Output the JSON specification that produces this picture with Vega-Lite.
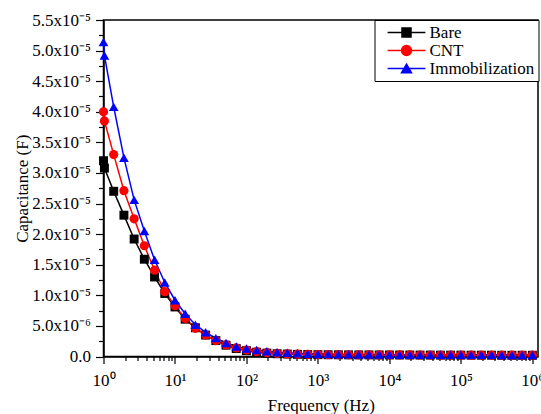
{
  "$schema": "https://vega.github.io/schema/vega-lite/v6.json",
  "width": 434.5,
  "height": 336.5,
  "autosize": {"type": "none"},
  "padding": {"left": 103.5, "top": 20, "right": 3, "bottom": 57.5},
  "background": "white",
  "config": {
    "view": {"stroke": "black", "strokeWidth": 1.5},
    "font": "Liberation Serif",
    "axis": {
      "grid": false,
      "domainColor": "black",
      "domainWidth": 1.5,
      "tickColor": "black",
      "tickWidth": 1.2,
      "labelColor": "black",
      "labelFont": "Liberation Serif",
      "labelFontSize": 17,
      "titleFont": "Liberation Serif",
      "titleFontSize": 17,
      "titleFontWeight": "normal",
      "titleColor": "black",
      "labelOverlap": false,
      "labelFlush": false
    }
  },
  "data": {
    "values": [
      {"f": 1, "Bare": 3.20e-5, "CNT": 4.00e-5, "Immobilization": 5.14e-5},
      {"f": 1.03, "Bare": 3.08e-5, "CNT": 3.85e-5, "Immobilization": 4.92e-5},
      {"f": 1.389, "Bare": 2.70e-5, "CNT": 3.30e-5, "Immobilization": 4.08e-5},
      {"f": 1.931, "Bare": 2.31e-5, "CNT": 2.71e-5, "Immobilization": 3.25e-5},
      {"f": 2.683, "Bare": 1.92e-5, "CNT": 2.25e-5, "Immobilization": 2.56e-5},
      {"f": 3.728, "Bare": 1.59e-5, "CNT": 1.81e-5, "Immobilization": 2.05e-5},
      {"f": 5.179, "Bare": 1.30e-5, "CNT": 1.41e-5, "Immobilization": 1.58e-5},
      {"f": 7.197, "Bare": 1.03e-5, "CNT": 1.06e-5, "Immobilization": 1.21e-5},
      {"f": 10, "Bare": 0.81e-5, "CNT": 0.83e-5, "Immobilization": 0.92e-5},
      {"f": 13.89, "Bare": 0.61e-5, "CNT": 0.62e-5, "Immobilization": 0.70e-5},
      {"f": 19.31, "Bare": 0.47e-5, "CNT": 0.46e-5, "Immobilization": 0.52e-5},
      {"f": 26.83, "Bare": 0.35e-5, "CNT": 0.35e-5, "Immobilization": 0.395e-5},
      {"f": 37.28, "Bare": 0.26e-5, "CNT": 0.26e-5, "Immobilization": 0.30e-5},
      {"f": 51.79, "Bare": 0.185e-5, "CNT": 0.19e-5, "Immobilization": 0.22e-5},
      {"f": 71.97, "Bare": 0.13e-5, "CNT": 0.14e-5, "Immobilization": 0.165e-5},
      {"f": 100, "Bare": 0.095e-5, "CNT": 0.105e-5, "Immobilization": 0.13e-5},
      {"f": 138.9, "Bare": 0.07e-5, "CNT": 0.08e-5, "Immobilization": 0.105e-5},
      {"f": 193.1, "Bare": 0.055e-5, "CNT": 0.062e-5, "Immobilization": 0.085e-5},
      {"f": 268.3, "Bare": 0.045e-5, "CNT": 0.05e-5, "Immobilization": 0.07e-5},
      {"f": 372.8, "Bare": 0.04e-5, "CNT": 0.043e-5, "Immobilization": 0.06e-5},
      {"f": 517.9, "Bare": 0.035e-5, "CNT": 0.038e-5, "Immobilization": 0.052e-5},
      {"f": 719.7, "Bare": 0.032e-5, "CNT": 0.034e-5, "Immobilization": 0.046e-5},
      {"f": 1000, "Bare": 0.030e-5, "CNT": 0.032e-5, "Immobilization": 0.042e-5},
      {"f": 1389, "Bare": 0.029e-5, "CNT": 0.030e-5, "Immobilization": 0.039e-5},
      {"f": 1931, "Bare": 0.028e-5, "CNT": 0.029e-5, "Immobilization": 0.037e-5},
      {"f": 2683, "Bare": 0.027e-5, "CNT": 0.028e-5, "Immobilization": 0.035e-5},
      {"f": 3728, "Bare": 0.026e-5, "CNT": 0.027e-5, "Immobilization": 0.034e-5},
      {"f": 5179, "Bare": 0.026e-5, "CNT": 0.027e-5, "Immobilization": 0.033e-5},
      {"f": 7197, "Bare": 0.025e-5, "CNT": 0.026e-5, "Immobilization": 0.032e-5},
      {"f": 10000, "Bare": 0.025e-5, "CNT": 0.026e-5, "Immobilization": 0.031e-5},
      {"f": 13895, "Bare": 0.024e-5, "CNT": 0.025e-5, "Immobilization": 0.030e-5},
      {"f": 19307, "Bare": 0.024e-5, "CNT": 0.025e-5, "Immobilization": 0.030e-5},
      {"f": 26827, "Bare": 0.023e-5, "CNT": 0.024e-5, "Immobilization": 0.029e-5},
      {"f": 37276, "Bare": 0.023e-5, "CNT": 0.024e-5, "Immobilization": 0.029e-5},
      {"f": 51795, "Bare": 0.022e-5, "CNT": 0.023e-5, "Immobilization": 0.028e-5},
      {"f": 71969, "Bare": 0.022e-5, "CNT": 0.023e-5, "Immobilization": 0.028e-5},
      {"f": 100000, "Bare": 0.022e-5, "CNT": 0.023e-5, "Immobilization": 0.028e-5},
      {"f": 138950, "Bare": 0.021e-5, "CNT": 0.022e-5, "Immobilization": 0.027e-5},
      {"f": 193070, "Bare": 0.021e-5, "CNT": 0.022e-5, "Immobilization": 0.027e-5},
      {"f": 268270, "Bare": 0.021e-5, "CNT": 0.022e-5, "Immobilization": 0.027e-5},
      {"f": 372759, "Bare": 0.020e-5, "CNT": 0.021e-5, "Immobilization": 0.026e-5},
      {"f": 517947, "Bare": 0.020e-5, "CNT": 0.021e-5, "Immobilization": 0.026e-5},
      {"f": 719686, "Bare": 0.020e-5, "CNT": 0.021e-5, "Immobilization": 0.026e-5},
      {"f": 1000000, "Bare": 0.020e-5, "CNT": 0.021e-5, "Immobilization": 0.026e-5}
    ]
  },
  "transform": [{"fold": ["Bare", "CNT", "Immobilization"], "as": ["s", "c"]}],
  "encoding": {
    "x": {
      "field": "f",
      "type": "quantitative",
      "scale": {"type": "log", "domain": [1, 1200000], "nice": false},
      "axis": {
        "title": "Frequency (Hz)",
        "values": [1,2,3,4,5,6,7,8,9,10,20,30,40,50,60,70,80,90,100,200,300,400,500,600,700,800,900,1000,2000,3000,4000,5000,6000,7000,8000,9000,10000,20000,30000,40000,50000,60000,70000,80000,90000,100000,200000,300000,400000,500000,600000,700000,800000,900000,1000000],
        "labelExpr": "abs(log(datum.value)/LN10 - round(log(datum.value)/LN10)) < 1e-6 ? '10' + ['⁰','¹','²','³','⁴','⁵','⁶'][round(log(datum.value)/LN10)] : ''",
        "tickSize": {"condition": {"test": "abs(log(datum.value)/LN10 - round(log(datum.value)/LN10)) < 1e-6", "value": 7}, "value": 4},
        "labelPadding": 9,
        "titlePadding": 9
      }
    },
    "y": {
      "field": "c",
      "type": "quantitative",
      "scale": {"domain": [0, 0.000055], "nice": false, "zero": false},
      "axis": {
        "title": "Capacitance (F)",
        "values": [0, 2.5e-6, 5e-6, 7.5e-6, 1e-5, 1.25e-5, 1.5e-5, 1.75e-5, 2e-5, 2.25e-5, 2.5e-5, 2.75e-5, 3e-5, 3.25e-5, 3.5e-5, 3.75e-5, 4e-5, 4.25e-5, 4.5e-5, 4.75e-5, 5e-5, 5.25e-5, 5.5e-5],
        "labelExpr": "datum.value < 1e-9 ? '0.0' : (round(datum.value*1e7) % 50 !== 0 ? '' : (round(datum.value*1e7) === 50 ? '5.0x10⁻⁶' : format(datum.value*1e5, '.1f') + 'x10⁻⁵'))",
        "tickSize": {"condition": {"test": "round(datum.value*1e7) % 50 === 0", "value": 8}, "value": 5},
        "labelPadding": 5,
        "titlePadding": 0
      }
    },
    "color": {
      "field": "s",
      "type": "nominal",
      "scale": {"domain": ["Bare", "CNT", "Immobilization"], "range": ["#000000", "#ff0000", "#0000ff"]},
      "legend": {
        "title": null,
        "orient": "top-right",
        "offset": 0,
        "padding": 4,
        "strokeColor": "black",
        "fillColor": "white",
        "cornerRadius": 0,
        "labelFont": "Liberation Serif",
        "labelFontSize": 17,
        "labelColor": "black",
        "symbolSize": 81,
        "symbolStrokeWidth": 1.5,
        "symbolOpacity": 1,
        "symbolOffset": 19.5,
        "labelOffset": 14.5,
        "rowPadding": 0,
        "encode": {
          "symbols": {
            "update": {
              "shape": [
                {"test": "datum.value === 'Bare'", "value": "M-4.2,0H4.2M-1,-1H1V1H-1Z"},
                {"test": "datum.value === 'CNT'", "value": "M-4.2,0H4.2M-1.1,0A1.1,1.1,0,1,1,1.1,0A1.1,1.1,0,1,1,-1.1,0Z"},
                {"value": "M-4.2,0H4.2M0,-0.95L1.1,0.95L-1.1,0.95Z"}
              ],
              "fill": {"scale": "color", "field": "value"},
              "stroke": {"scale": "color", "field": "value"},
              "strokeWidth": {"value": 1.5},
              "opacity": {"value": 1}
            }
          }
        }
      }
    }
  },
  "layer": [
    {"mark": {"type": "line", "strokeWidth": 1.5}, "encoding": {}},
    {
      "transform": [{"filter": "datum.s === 'Bare'"}],
      "mark": {"type": "point", "shape": "square", "filled": true, "size": 80, "opacity": 1}
    },
    {
      "transform": [{"filter": "datum.s === 'CNT'"}],
      "mark": {"type": "point", "shape": "circle", "filled": true, "size": 85, "opacity": 1}
    },
    {
      "transform": [{"filter": "datum.s === 'Immobilization'"}],
      "mark": {"type": "point", "shape": "triangle-up", "filled": true, "size": 95, "opacity": 1}
    }
  ]
}
